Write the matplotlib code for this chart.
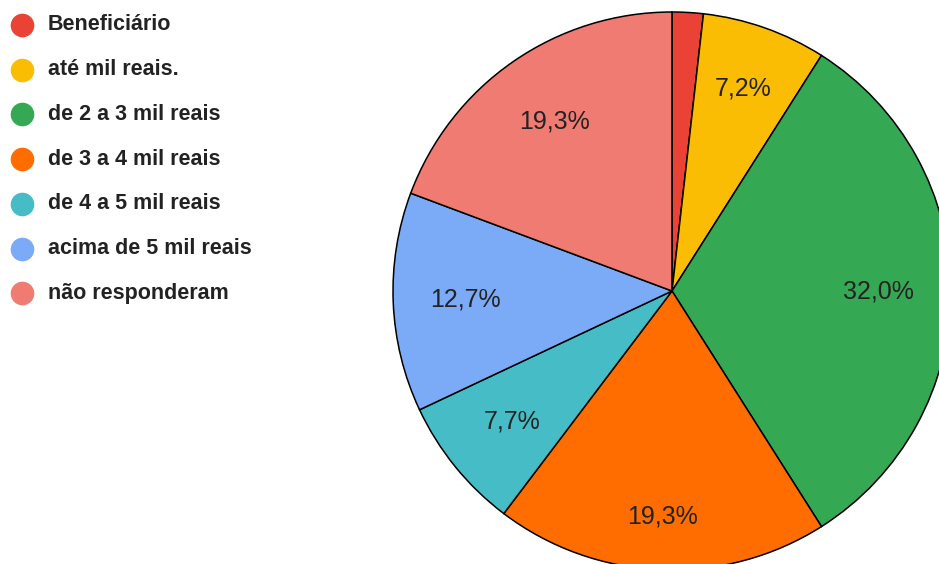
import numpy as np
import matplotlib.pyplot as plt

plt.rcParams['font.family'] = ['Liberation Sans', 'DejaVu Sans']

labels = ['Beneficiário', 'até mil reais.', 'de 2 a 3 mil reais', 'de 3 a 4 mil reais',
          'de 4 a 5 mil reais', 'acima de 5 mil reais', 'não responderam']
values = [1.8, 7.2, 32.0, 19.3, 7.7, 12.7, 19.3]
colors = ['#EA4335', '#FBBC04', '#34A853', '#FF6D01', '#46BDC6', '#7BAAF7', '#F07B72']
# how far out each percentage sits, as a fraction of the radius
label_dist = [0.74, 0.77, 0.74, 0.81, 0.74, 0.74, 0.74]

W, H = 939, 564
cx, cy, r = 672, H - 291, 279

fig = plt.figure(figsize=(W / 100, H / 100), dpi=100)
ax = fig.add_axes([0, 0, 1, 1])


def pct(p):
    if p < 3:
        return ''
    return f'{p:.1f}%'.replace('.', ',')


wedges, texts, autotexts = ax.pie(
    values, colors=colors, startangle=90, counterclock=False,
    center=(cx, cy), radius=r, autopct=pct, pctdistance=0.74,
    wedgeprops=dict(edgecolor='black', linewidth=1.1),
    textprops=dict(fontsize=18, color='#222222'))
ax.set_xlim(0, W)
ax.set_ylim(0, H)
ax.set_aspect('equal')
ax.axis('off')

for w, t, d in zip(wedges, autotexts, label_dist):
    ang = np.deg2rad((w.theta1 + w.theta2) / 2)
    t.set_position((cx + d * r * np.cos(ang), cy + d * r * np.sin(ang)))

# legend drawn by hand, one row per category
for i, (lab, col) in enumerate(zip(labels, colors)):
    y = H - 25 - 44.7 * i
    ax.plot(22, y, 'o', markersize=16, color=col, clip_on=False)
    ax.text(48, y, lab, fontsize=15.5, fontweight='bold', color='#222222',
            va='center', ha='left')

fig.savefig('out.png', dpi=100)
